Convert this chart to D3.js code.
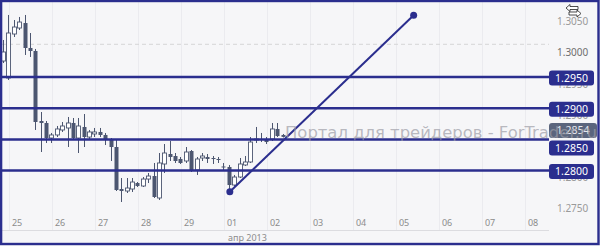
<!DOCTYPE html>
<html><head><meta charset="utf-8">
<script src="https://cdn.jsdelivr.net/npm/d3@7"></script>
<style>html,body{margin:0;padding:0;background:#f6f6f8;overflow:hidden}</style>
</head><body><svg id="c" width="600" height="246"></svg>
<script>
// 3-hour candles, 25 Mar – 02 Apr 2013
const OPEN  = [1.29756,1.29484,1.30189,1.30285,1.30365,1.29965,1.29917,1.28795,1.28763,1.28522,1.28571,1.28651,1.28683,1.28763,1.28522,1.28699,1.28538,1.28587,1.28619,1.28571,1.28490,1.28378,1.27705,1.27673,1.27705,1.27801,1.27753,1.27865,1.27913,1.27561,1.28106,1.28266,1.28234,1.28186,1.28154,1.28314,1.28010,1.28202,1.28218,1.28202,1.28186,1.28066,1.28058,1.27769,1.27897,1.28090,1.28138,1.28498,1.28506,1.28506,1.28506,1.28667,1.28571];
const HIGH  = [1.30093,1.30494,1.30413,1.30462,1.30494,1.30205,1.29949,1.28939,1.28795,1.28603,1.28715,1.28779,1.28859,1.28843,1.28843,1.28907,1.28651,1.28683,1.28683,1.28603,1.28522,1.28490,1.27881,1.27881,1.27881,1.27817,1.27897,1.27962,1.28122,1.28282,1.28426,1.28474,1.28282,1.28218,1.28378,1.28330,1.28218,1.28282,1.28266,1.28234,1.28218,1.28122,1.28090,1.27930,1.28202,1.28234,1.28538,1.28699,1.28603,1.28538,1.28763,1.28763,1.28587];
const LOW   = [1.29724,1.29452,1.30141,1.30253,1.29853,1.29821,1.28651,1.28298,1.28442,1.28442,1.28538,1.28619,1.28378,1.28490,1.28282,1.28378,1.28490,1.28538,1.28538,1.28410,1.28154,1.27673,1.27497,1.27641,1.27657,1.27737,1.27737,1.27801,1.27561,1.27529,1.27962,1.28154,1.28122,1.28106,1.28122,1.27978,1.27930,1.28154,1.28122,1.28106,1.28122,1.28010,1.27689,1.27753,1.27881,1.28074,1.28122,1.28442,1.28458,1.28426,1.28474,1.28538,1.28530];
const CLOSE = [1.29901,1.30205,1.30301,1.30381,1.29965,1.29917,1.28779,1.28763,1.28522,1.28571,1.28667,1.28715,1.28763,1.28522,1.28715,1.28538,1.28619,1.28619,1.28571,1.28490,1.28378,1.27689,1.27673,1.27721,1.27817,1.27753,1.27865,1.27913,1.27577,1.28122,1.28282,1.28218,1.28154,1.28122,1.28298,1.28010,1.28186,1.28234,1.28186,1.28194,1.28180,1.28058,1.27769,1.27897,1.28106,1.28138,1.28458,1.28506,1.28498,1.28458,1.28667,1.28554,1.28540];

const DAY_LABELS = ["25","26","27","28","29","01","02","03","04","05","06","07","08"];
const MONTH_LABEL = "апр 2013";
const PRICE_TICKS = [1.3050,1.3000,1.2950,1.2900,1.2850,1.2800,1.2750];
const LEVELS = [1.2950,1.2900,1.2850,1.2800];
const CURRENT = 1.2854;
const TREND_I = [42.2, 76.4];
const TREND_P = [1.2766, 1.3049];
const WATERMARK = "Портал для трейдеров - ForTrader.ru";

const NAVY = "#2b2e8e", SLATE = "#4c5670";
const svg = d3.select("#c");
const W = 600, H = 246, PR = 549, BASE = 230;
const x = d3.scaleLinear().domain([0, 52]).range([3, 282.5]);
const y = d3.scaleLinear().domain([1.2950, 1.2800]).range([77, 170.6]);
const fmt = d3.format(".4f");

svg.append("rect").attr("width", W).attr("height", H).attr("fill", "#f6f6f8");

// vertical day gridlines and labels
const dayPos = DAY_LABELS.map((d, k) => x(1.1 + 8 * k));
svg.append("g").selectAll("line").data(dayPos).join("line")
  .attr("x1", d => Math.round(d) + 0.5).attr("x2", d => Math.round(d) + 0.5)
  .attr("y1", 2).attr("y2", BASE).attr("stroke", "#ebebef").attr("stroke-width", 1);
svg.append("line").attr("x1", 2).attr("x2", PR).attr("y1", BASE + 0.5).attr("y2", BASE + 0.5)
  .attr("stroke", "#dcdce0");
svg.append("g").selectAll("text").data(DAY_LABELS).join("text")
  .attr("x", (d, k) => dayPos[k] + 3).attr("y", 226)
  .attr("font-family", "Noto Sans").attr("font-size", 9).attr("fill", "#8c8c8c")
  .text(d => d);
svg.append("text").attr("x", (dayPos[5] + dayPos[6]) / 2 + 2).attr("y", 240.5)
  .attr("text-anchor", "middle").attr("font-family", "Noto Sans").attr("font-size", 9)
  .attr("fill", "#8c8c8c").text(MONTH_LABEL);

// dashed 1.3000 gridline
svg.append("line").attr("x1", 2).attr("x2", PR).attr("y1", y(1.3) - 1.5).attr("y2", y(1.3) - 1.5)
  .attr("stroke", "#d6d6d6").attr("stroke-dasharray", "4,3");

// price tick labels (some are covered by the level boxes, as in the original)
svg.append("g").selectAll("text").data(PRICE_TICKS).join("text")
  .attr("x", 557).attr("y", d => y(d) + 7).attr("dy", "0.35em")
  .attr("font-family", "Noto Sans").attr("font-size", 10)
  .attr("fill", d => d === 1.3 ? "#6e6e6e" : "#9a9a9a")
  .text(d => fmt(d));

// candles
const idx = d3.range(OPEN.length);
const cg = svg.append("g");
cg.selectAll("line").data(idx).join("line")
  .attr("x1", i => Math.round(x(i)) + 0.5).attr("x2", i => Math.round(x(i)) + 0.5)
  .attr("y1", i => y(HIGH[i])).attr("y2", i => y(LOW[i]))
  .attr("stroke", SLATE).attr("stroke-width", 1);
cg.selectAll("rect").data(idx).join("rect")
  .attr("x", i => Math.round(x(i)) - 1.5)
  .attr("width", 4)
  .attr("y", i => y(Math.max(OPEN[i], CLOSE[i])))
  .attr("height", i => Math.max(1, Math.abs(y(OPEN[i]) - y(CLOSE[i]))))
  .attr("fill", i => CLOSE[i] >= OPEN[i] ? "#ffffff" : SLATE)
  .attr("stroke", SLATE).attr("stroke-width", i => CLOSE[i] >= OPEN[i] ? 0.9 : 0);

// horizontal levels
svg.append("g").selectAll("line").data(LEVELS).join("line")
  .attr("x1", 2).attr("x2", PR).attr("y1", d => y(d)).attr("y2", d => y(d))
  .attr("stroke", NAVY).attr("stroke-width", 2.5);

// trend line
const tp = TREND_I.map((v, k) => [x(v), y(TREND_P[k])]);
svg.append("line").attr("x1", tp[0][0]).attr("y1", tp[0][1]).attr("x2", tp[1][0]).attr("y2", tp[1][1])
  .attr("stroke", NAVY).attr("stroke-width", 2);
svg.append("g").selectAll("circle").data(tp).join("circle")
  .attr("cx", d => d[0]).attr("cy", d => d[1]).attr("r", 3.5).attr("fill", NAVY);

// price label boxes with simple collision avoidance
const BOX_H = 15, GAP = 17.5;
const boxes = LEVELS.map(v => ({v, c: y(v) + 1, cur: false}))
  .concat([{v: CURRENT, c: y(CURRENT) + 1, cur: true}])
  .sort((a, b) => a.c - b.c);
for (let k = 1; k < boxes.length; k++) {
  const a = boxes[k - 1], b = boxes[k];
  if (b.c - a.c < GAP) { const m = (a.c + b.c) / 2; a.c = m - GAP / 2; b.c = m + GAP / 2; }
}
const bg = svg.append("g").selectAll("g").data(boxes).join("g");
bg.append("rect").attr("x", PR).attr("y", d => d.c - BOX_H / 2)
  .attr("width", d => d.cur ? 48 : 45).attr("height", BOX_H).attr("rx", 3)
  .attr("fill", d => d.cur ? "#5b657d" : NAVY);
bg.append("text").attr("x", d => PR + (d.cur ? 24 : 22.5)).attr("y", d => d.c).attr("dy", "0.36em")
  .attr("text-anchor", "middle").attr("font-family", "Noto Sans").attr("font-size", 10.5)
  .attr("fill", d => d.cur ? "#e6e8ee" : "#ffffff").text(d => fmt(d.v));

// watermark drawn over everything, semi-transparent
svg.append("text").attr("x", 285).attr("y", 137.5)
  .attr("font-family", "DejaVu Sans").attr("font-size", 16)
  .attr("textLength", 312).attr("lengthAdjust", "spacingAndGlyphs")
  .attr("fill", "#9c9ca6").attr("fill-opacity", 0.7).text(WATERMARK);

// reset-zoom icon
svg.append("path").attr("d", "M566,8 L570,4.5 L570,6.5 L578,6.5 L578,9.5 L570,9.5 L570,11.5 Z")
  .attr("fill", "#fff").attr("stroke", "#222").attr("stroke-width", 0.8);
svg.append("path").attr("d", "M581,13.5 L577,10 L577,12 L569,12 L569,15 L577,15 L577,17 Z")
  .attr("fill", "#fff").attr("stroke", "#222").attr("stroke-width", 0.8);

// frame
svg.append("rect").attr("x", 1.1).attr("y", 1).attr("width", 597.4).attr("height", 243)
  .attr("fill", "none").attr("stroke", NAVY).attr("stroke-width", 2.4);
</script></body></html>
